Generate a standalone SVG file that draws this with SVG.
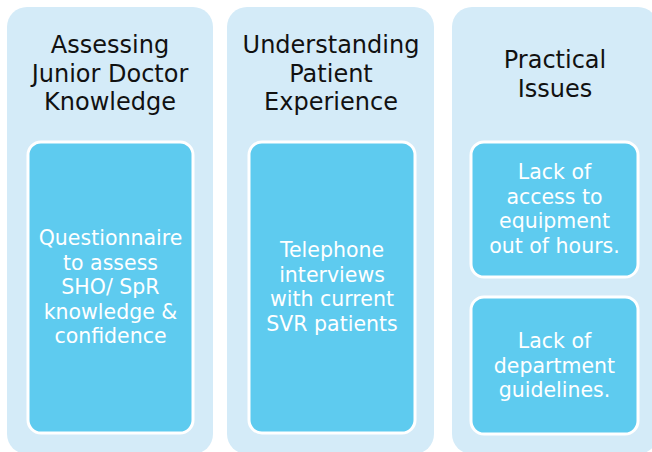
<svg xmlns="http://www.w3.org/2000/svg" width="652" height="452" viewBox="0 0 652 452">
<style>
.col{fill:#D4EBF8}
.box{fill:#5ECBEF;stroke:#FFFFFF;stroke-width:3}
.hd{font-family:"DejaVu Sans",sans-serif;font-size:24px;fill:#111111;text-anchor:middle}
.tx{font-family:"DejaVu Sans",sans-serif;font-size:20.5px;fill:#FFFFFF;text-anchor:middle}
</style>
<rect width="652" height="452" fill="#FFFFFF"/>
<g id="col1">
<rect class="col" x="7" y="7" width="206" height="447" rx="20"/>
<text class="hd" x="110" y="53">Assessing</text>
<text class="hd" x="110" y="82">Junior Doctor</text>
<text class="hd" x="110" y="110">Knowledge</text>
<g id="box1">
<rect class="box" x="28" y="142" width="165" height="291" rx="13"/>
<text class="tx" x="110.5" y="245">Questionnaire</text>
<text class="tx" x="110.5" y="269.5">to assess</text>
<text class="tx" x="110.5" y="294">SHO/ SpR</text>
<text class="tx" x="110.5" y="318.5">knowledge &amp;</text>
<text class="tx" x="110.5" y="343">confidence</text>
</g>
</g>
<g id="col2">
<rect class="col" x="227" y="7" width="207" height="447" rx="20"/>
<text class="hd" x="331" y="53">Understanding</text>
<text class="hd" x="331" y="82">Patient</text>
<text class="hd" x="331" y="110">Experience</text>
<g id="box2">
<rect class="box" x="249" y="142" width="166" height="291" rx="13"/>
<text class="tx" x="332" y="257">Telephone</text>
<text class="tx" x="332" y="281.5">interviews</text>
<text class="tx" x="332" y="306">with current</text>
<text class="tx" x="332" y="330.5">SVR patients</text>
</g>
</g>
<g id="col3">
<rect class="col" x="452" y="7" width="206" height="447" rx="20"/>
<text class="hd" x="555" y="68">Practical</text>
<text class="hd" x="555" y="97">Issues</text>
<g id="box3">
<rect class="box" x="471" y="142" width="167" height="135" rx="13"/>
<text class="tx" x="554.5" y="179">Lack of</text>
<text class="tx" x="554.5" y="203.5">access to</text>
<text class="tx" x="554.5" y="228">equipment</text>
<text class="tx" x="554.5" y="252.5">out of hours.</text>
</g>
<g id="box4">
<rect class="box" x="471" y="297" width="167" height="137" rx="13"/>
<text class="tx" x="554.5" y="348">Lack of</text>
<text class="tx" x="554.5" y="372.5">department</text>
<text class="tx" x="554.5" y="397">guidelines.</text>
</g>
</g>
<g id="connectors"></g>
</svg>
